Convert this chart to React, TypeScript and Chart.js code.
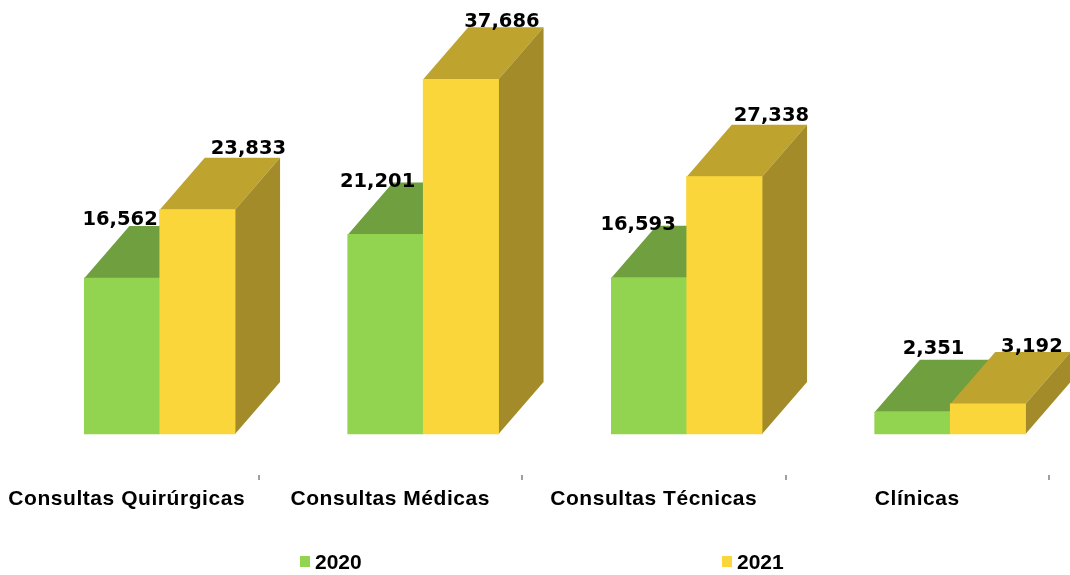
import React, { useEffect, useRef } from "react";
import { Chart, registerables } from "chart.js";

Chart.register(...registerables);

const categories = ["Consultas Quirúrgicas", "Consultas Médicas", "Consultas Técnicas", "Clínicas"];
const series2020 = [16562, 21201, 16593, 2351];
const series2021 = [23833, 37686, 27338, 3192];

const FRONT = ["#92D350", "#FBD63A"];
const TOP = ["#6F9F3E", "#BEA32E"];
const SIDE = ["#5F8835", "#A28B28"];
const DEPTH_X = 45;
const DEPTH_Y = 52;
const LABEL_SHIFT = 33;
const VALUE_FONT = "bold 19.5px 'DejaVu Sans'";
const valueLabelOffsets = [
  [[-2, -58], [-8, -52], [-11, -53], [21, -63]],
  [[51, -61], [41, -57], [47, -61], [44, -57]],
];
const legendX = [300, 722];
const LEGEND_Y = 563;

const faces3d = {
  id: "faces3d",
  beforeDraw(chart: any) {
    chart.ctx.letterSpacing = "0.55px";
  },
  afterDatasetsDraw(chart: any) {
    const ctx = chart.ctx;
    const xs = chart.scales.x;
    chart.data.datasets.forEach((ds: any, d: number) => {
      const meta = chart.getDatasetMeta(d);
      meta.data.forEach((bar: any) => {
        const p = bar.getProps(["x", "y", "base", "width"], true);
        const l = p.x - p.width / 2;
        const r = p.x + p.width / 2;
        ctx.fillStyle = TOP[d];
        ctx.beginPath();
        ctx.moveTo(l, p.y);
        ctx.lineTo(l + DEPTH_X, p.y - DEPTH_Y);
        ctx.lineTo(r + DEPTH_X, p.y - DEPTH_Y);
        ctx.lineTo(r, p.y);
        ctx.closePath();
        ctx.fill();
        ctx.fillStyle = SIDE[d];
        ctx.beginPath();
        ctx.moveTo(r, p.y);
        ctx.lineTo(r + DEPTH_X, p.y - DEPTH_Y);
        ctx.lineTo(r + DEPTH_X, p.base - DEPTH_Y);
        ctx.lineTo(r, p.base);
        ctx.closePath();
        ctx.fill();
        bar.draw(ctx);
      });
    });
    // value labels
    ctx.save();
    ctx.letterSpacing = "0px";
    ctx.font = VALUE_FONT;
    ctx.fillStyle = "#000";
    ctx.textAlign = "center";
    ctx.textBaseline = "middle";
    chart.data.datasets.forEach((ds: any, d: number) => {
      chart.getDatasetMeta(d).data.forEach((bar: any, i: number) => {
        const p = bar.getProps(["x", "y"], true);
        const [dx, dy] = valueLabelOffsets[d][i];
        ctx.fillText(ds.data[i].toLocaleString("en-US"), p.x + dx, p.y + dy);
      });
    });
    // axis tick marks (the category axis sits on the floor of the 3D box)
    ctx.fillStyle = "#A0A0A0";
    categories.forEach((_, i) => {
      const tx = xs.getPixelForTick(i) + (xs.width / categories.length) / 2 - LABEL_SHIFT;
      ctx.fillRect(Math.round(tx) - 1, 475, 2, 5);
    });
    // legend
    ctx.textAlign = "left";
    chart.data.datasets.forEach((ds: any, d: number) => {
      ctx.fillStyle = ds.backgroundColor;
      ctx.fillRect(legendX[d], LEGEND_Y - 7, 10, 11);
      ctx.fillStyle = "#000";
      ctx.font = "bold 21px 'Liberation Sans'";
      ctx.fillText(ds.label, legendX[d] + 15, LEGEND_Y);
    });
    ctx.restore();
  },
};

export default function App() {
  const ref = useRef<HTMLCanvasElement>(null);
  useEffect(() => {
    const chart = new Chart(ref.current as HTMLCanvasElement, {
      type: "bar",
      data: {
        labels: categories,
        datasets: [
          { label: "2020", data: series2020, backgroundColor: FRONT[0], barThickness: 75.3 },
          { label: "2021", data: series2021, backgroundColor: FRONT[1], barThickness: 75.3 },
        ],
      },
      options: {
        responsive: false,
        animation: false,
        layout: { padding: { left: 28, right: 18, top: 1, bottom: 0 } },
        plugins: { legend: { display: false }, tooltip: { enabled: false } },
        scales: {
          x: {
            grid: { display: false },
            border: { display: false },
            afterFit: (s: any) => {
              s.height = 141;
              s.paddingLeft = 0;
              s.paddingRight = 0;
            },
            ticks: {
              autoSkip: false,
              maxRotation: 0,
              minRotation: 0,
              padding: 45,
              labelOffset: -LABEL_SHIFT,
              color: "#000",
              font: { family: "'Liberation Sans'", size: 21, weight: "bold" },
            },
          },
          y: { display: false, min: 0, max: 46000 },
        },
      },
      plugins: [faces3d],
    } as any);
    return () => chart.destroy();
  }, []);
  return (
    <div style={{ position: "absolute", left: 0, top: 0, width: 1070, height: 575, overflow: "hidden", background: "#fff" }}>
      <canvas ref={ref} width={1100} height={575} style={{ display: "block" }} />
    </div>
  );
}
